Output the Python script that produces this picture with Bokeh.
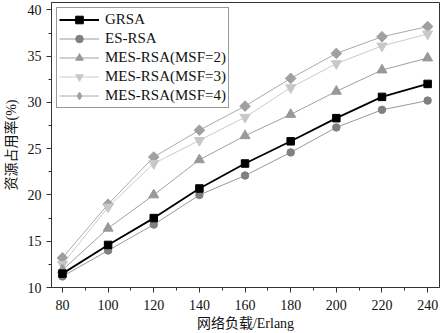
import math
from bokeh.plotting import figure
from bokeh.models import Range1d, Legend, LegendItem, FixedTicker
from bokeh.embed import file_html
from bokeh.resources import INLINE

loads = [80, 100, 120, 140, 160, 180, 200, 220, 240]
grsa = [11.5, 14.6, 17.5, 20.7, 23.4, 25.8, 28.3, 30.6, 32.0]
es_rsa = [11.2, 14.0, 16.8, 20.0, 22.1, 24.6, 27.3, 29.2, 30.2]
mes2 = [11.9, 16.4, 20.0, 23.8, 26.4, 28.7, 31.2, 33.5, 34.8]
mes3 = [12.5, 18.7, 23.4, 25.9, 28.4, 31.6, 34.2, 36.1, 37.4]
mes4 = [13.2, 19.0, 24.1, 27.0, 29.6, 32.6, 35.3, 37.1, 38.2]

names = ["GRSA", "ES-RSA", "MES-RSA(MSF=2)", "MES-RSA(MSF=3)", "MES-RSA(MSF=4)"]
x_ticks = [80, 100, 120, 140, 160, 180, 200, 220, 240]
y_ticks = [10, 15, 20, 25, 30, 35, 40]

FONT = "'Liberation Serif', 'Noto Sans CJK SC', serif"

p = figure(width=441, height=333, output_backend="svg", toolbar_location=None,
           x_range=Range1d(75.2, 245.2), y_range=Range1d(10, 40.8),
           min_border_left=47, min_border_right=2, min_border_top=2, min_border_bottom=45)
p.grid.visible = False
p.outline_line_color = "#333333"
p.outline_line_width = 1
p.background_fill_color = "white"
p.border_fill_color = "white"

p.xaxis.ticker = FixedTicker(ticks=x_ticks, minor_ticks=list(range(70, 260, 10)))
p.yaxis.ticker = FixedTicker(ticks=y_ticks, minor_ticks=[10 + 2.5 * i for i in range(13)])
for ax in (p.xaxis[0], p.yaxis[0]):
    ax.axis_line_color = "#333333"
    ax.major_tick_line_color = "#333333"
    ax.minor_tick_line_color = "#333333"
    ax.major_tick_out = 5
    ax.major_tick_in = 0
    ax.minor_tick_out = 3
    ax.minor_tick_in = 0
    ax.major_label_text_font = FONT
    ax.major_label_text_font_size = "14px"
    ax.major_label_text_color = "#111111"
    ax.axis_label_text_font = FONT
    ax.axis_label_text_font_size = "14px"
    ax.axis_label_text_font_style = "normal"
    ax.axis_label_text_color = "#111111"
p.xaxis.axis_label = "网络负载/Erlang"
p.yaxis.axis_label = "资源占用率(%)"
p.xaxis.major_label_standoff = 7
p.yaxis.major_label_standoff = 5
p.xaxis.axis_label_standoff = 3
p.yaxis.axis_label_standoff = 6

styles = [
    (grsa, "#000000", "#000000", "square", 7.5, 1.8, 0.0),
    (es_rsa, "#999999", "#808080", "circle", 7.5, 1.0, 0.0),
    (mes2, "#a0a0a0", "#999999", "triangle", 10, 1.0, 0.0),
    (mes3, "#cccccc", "#c8c8c8", "inverted_triangle", 10, 1.0, 0.0),
    (mes4, "#aaaaaa", "#a0a0a0", "square", 7.5, 1.0, math.pi / 4),
]
order = [4, 3, 2, 1, 0]
renderers = {}
for i in order:
    ys, lc, mc, mk, sz, lw, ang = styles[i]
    r1 = p.line(loads, ys, line_color=lc, line_width=lw)
    r2 = p.scatter(loads, ys, marker=mk, size=sz, angle=ang,
                   fill_color=mc, line_color=mc)
    renderers[i] = [r1, r2]

# legend-only proxy so the legend shows a diamond for MSF=4
proxy = p.scatter([float("nan")], [float("nan")], marker="diamond", size=9,
                  fill_color="#a0a0a0", line_color="#a0a0a0")
renderers[4] = [renderers[4][0], proxy]

items = [LegendItem(label=names[i], renderers=renderers[i]) for i in range(5)]

leg = Legend(items=items, location="top_left")
leg.margin = 5
leg.padding = 2
leg.spacing = 0
leg.glyph_width = 40
leg.glyph_height = 19
leg.label_height = 19
leg.label_standoff = 6
leg.label_text_font = FONT
leg.label_text_font_size = "15px"
leg.label_text_color = "#111111"
leg.border_line_color = "#333333"
leg.border_line_width = 1
leg.background_fill_alpha = 1
p.add_layout(leg)

open("out.html", "w").write(file_html(p, INLINE))
